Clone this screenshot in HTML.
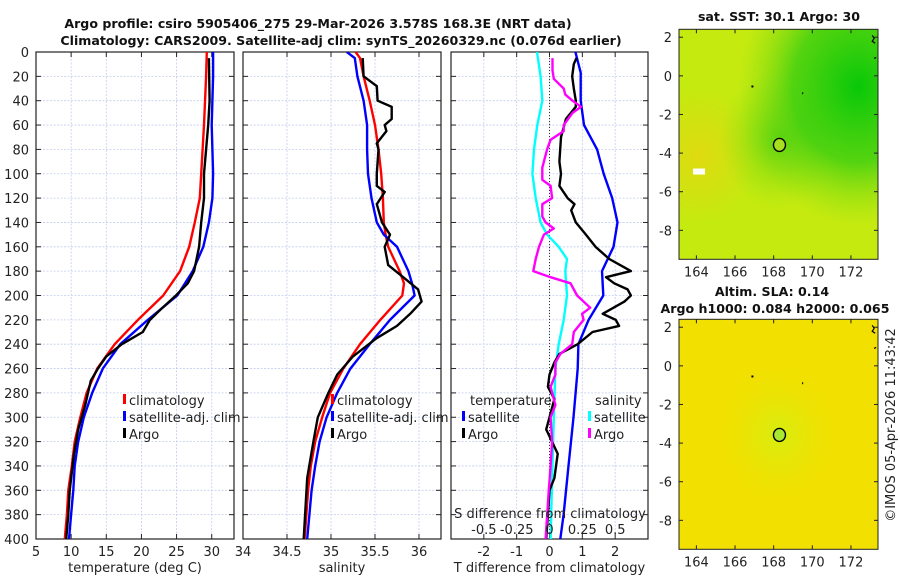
<!DOCTYPE html>
<html><head><meta charset="utf-8"><style>
html,body{margin:0;padding:0;background:#fff}
svg{display:block;font-family:"DejaVu Sans","Liberation Sans",sans-serif}
</style></head><body>
<svg id="fig" width="900" height="580" viewBox="0 0 900 580">
<defs>
<radialGradient id="sstG1" cx="0.9" cy="0.25" r="0.6"><stop offset="0" stop-color="#08c808"/><stop offset="0.55" stop-color="#30cc10" stop-opacity="0.75"/><stop offset="1" stop-color="#80dc10" stop-opacity="0"/></radialGradient>
<radialGradient id="sstG2" cx="0.5" cy="0.48" r="0.3"><stop offset="0" stop-color="#30c810" stop-opacity="0.7"/><stop offset="1" stop-color="#80dc10" stop-opacity="0"/></radialGradient>
<radialGradient id="sstG3" cx="0.1" cy="0.55" r="0.3"><stop offset="0" stop-color="#f0d010" stop-opacity="0.6"/><stop offset="1" stop-color="#f0d010" stop-opacity="0"/></radialGradient>
<radialGradient id="slaG" cx="0.5" cy="0.5" r="0.35"><stop offset="0" stop-color="#d6ee10"/><stop offset="1" stop-color="#f2e000" stop-opacity="0"/></radialGradient>
<clipPath id="c1"><rect x="36" y="52" width="198" height="487"/></clipPath>
<clipPath id="c2"><rect x="243" y="52" width="198" height="487"/></clipPath>
<clipPath id="c3"><rect x="451" y="52" width="197" height="487"/></clipPath>
</defs>
<g id="root"></g>
</svg>
<script>
// ---- data ----
const depthT = [0,20,60,100,120,140,160,180,200,220,240,260,280,300,320,340,360,380,400];
const tempClim = [29.3,29.2,28.9,28.5,28.3,27.6,26.8,25.5,23.1,19.5,16.2,13.7,12.2,11.3,10.5,10.1,9.6,9.4,9.1];
const tempSat = [30.2,30.2,30.0,30.2,30.1,29.6,28.8,27.3,25.1,20.9,17.0,14.5,13.0,11.8,11.0,10.5,10.3,10.0,9.7];
const depthArgoT = [5,40,60,80,100,120,140,160,180,190,200,210,220,230,240,250,260,270,290,310,330,360,380,400];
const tempArgo = [29.6,29.7,29.5,29.2,28.9,28.9,28.5,28.2,27.5,26.6,24.9,23.0,21.2,20.2,17.2,15.0,13.8,12.8,12.0,11.0,10.4,9.8,9.6,9.3];

const depthS = [0,5,20,40,60,80,100,120,140,150,160,180,190,200,220,240,260,280,300,320,340,360,400];
const salClim = [35.28,35.33,35.37,35.44,35.50,35.54,35.57,35.59,35.60,35.62,35.65,35.78,35.83,35.81,35.56,35.33,35.14,34.99,34.90,34.82,34.77,34.74,34.70];
const salSat = [35.18,35.27,35.30,35.37,35.41,35.41,35.42,35.46,35.52,35.60,35.75,35.88,35.92,35.95,35.67,35.44,35.22,35.07,34.95,34.87,34.82,34.78,34.73];
const depthArgoS = [5,20,28,40,45,55,60,65,75,80,100,110,115,125,140,150,160,175,185,195,205,215,225,235,250,265,280,300,320,350,400];
const salArgo = [35.36,35.37,35.52,35.53,35.69,35.69,35.61,35.63,35.52,35.54,35.52,35.52,35.61,35.52,35.58,35.67,35.61,35.65,35.82,35.99,36.03,35.90,35.75,35.52,35.25,35.07,34.97,34.85,34.80,34.73,34.69];

const depthD1 = [0,17,40,60,80,100,120,140,160,180,200,220,240,260,300,340,380,400];
const tDiffSat = [0.79,0.95,0.95,1.05,1.45,1.65,1.91,2.07,1.95,1.60,1.64,1.19,0.88,0.86,0.73,0.58,0.43,0.33];
const depthD2 = [0,20,40,60,80,100,120,140,150,160,170,180,200,220,240,260,300,350,400];
const sDiffSat = [-0.095,-0.068,-0.055,-0.093,-0.118,-0.13,-0.105,-0.068,-0.018,0.07,0.133,0.12,0.133,0.108,0.07,0.045,0.033,0.02,0.008];
const depthD3 = [5,10,20,30,40,45,55,70,90,100,110,120,125,130,140,150,160,170,180,185,190,195,200,205,215,220,225,230,240,248,255,265,275,285,300,310,330,350,360,380,400];
const tDiffArgo = [0.82,0.74,0.69,0.74,0.80,0.80,0.50,0.35,0.30,0.35,0.30,0.55,0.76,0.66,0.80,1.11,1.40,1.82,2.48,1.72,1.97,2.38,2.48,2.28,1.62,2.02,2.12,1.31,0.86,0.30,0.15,0.0,-0.05,0.15,0.0,-0.10,0.25,0.15,0.0,-0.05,-0.10];
const depthD4 = [5,15,22,30,35,40,45,50,60,65,72,80,95,105,110,120,125,135,140,145,150,160,170,180,185,190,200,210,215,220,230,240,248,255,265,275,290,300,320,340,360,400];
const sDiffArgo = [0.023,0.023,0.033,0.108,0.12,0.175,0.24,0.175,0.108,0.108,0.008,-0.018,-0.055,-0.055,0.008,0.02,-0.055,-0.055,-0.03,0.033,-0.043,-0.08,-0.105,-0.123,0.008,0.16,0.21,0.31,0.248,0.26,0.185,0.173,0.083,0.045,0.045,0.008,0.045,0.008,0.02,0.008,-0.005,-0.03];

const tTicks = [5,10,15,20,25,30];
const sTicks = [34,34.5,35,35.5,36];
const dTicks = [-2,-1,0,1,2];
const sdTicks = [-0.5,-0.25,0,0.25,0.5];
const sdLabels = ["-0.5","-0.25","0","0.25","0.5"];
const depthTicks = [0,20,40,60,80,100,120,140,160,180,200,220,240,260,280,300,320,340,360,380,400];
const lonTicks = [164,166,168,170,172];
const latTicks = [2,0,-2,-4,-6,-8];
const argoPos = [168.3,-3.578];

// ---- helpers ----
const NS="http://www.w3.org/2000/svg";
const root=document.getElementById('root');
function mk(tag,attrs,parent){const e=document.createElementNS(NS,tag);for(const k in attrs)e.setAttribute(k,attrs[k]);(parent||root).appendChild(e);return e;}
function txt(x,y,s,opt,parent){const e=mk('text',Object.assign({x:x,y:y,'font-size':13,fill:'#222'},opt||{}),parent);e.textContent=s;return e;}
const Y0=52,Y1=539;
const yD=d=>Y0+(d/400)*(Y1-Y0);
function lin(d0,d1,p0,p1){return v=>p0+(v-d0)/(d1-d0)*(p1-p0);}
const xT=lin(5,33.17,36,234), xS=lin(34,36.25,243,441), xD=lin(-3,3,451,648), xSD=v=>xD(v*4);

function panel(x0,x1,xs,ticks,labels,name,title){
  const g=mk('g',{});
  
  
  mk('rect',{x:x0,y:Y0,width:x1-x0,height:Y1-Y0,fill:'#fff'},g);
  depthTicks.forEach(d=>{ if(d>0&&d<400) mk('line',{x1:x0,x2:x1,y1:yD(d),y2:yD(d),stroke:'#c4cdee','stroke-width':0.8,'stroke-dasharray':'2,1.5'},g);
    mk('line',{x1:x0,x2:x0+5,y1:yD(d),y2:yD(d),stroke:'#222'},g); mk('line',{x1:x1-5,x2:x1,y1:yD(d),y2:yD(d),stroke:'#222'},g);});
  ticks.forEach((t,i)=>{const x=xs(t); if(x>x0+1) mk('line',{x1:x,x2:x,y1:Y0,y2:Y1,stroke:'#c4cdee','stroke-width':0.8,'stroke-dasharray':'2,1.5'},g);
    mk('line',{x1:x,x2:x,y1:Y1,y2:Y1-5,stroke:'#222'},g); mk('line',{x1:x,x2:x,y1:Y0,y2:Y0+5,stroke:'#222'},g);
    const l=txt(x,556,labels[i],{'text-anchor':'middle'},g);
    
    });
  mk('rect',{x:x0,y:Y0,width:x1-x0,height:Y1-Y0,fill:'none',stroke:'#222','stroke-width':1.2},g);
  const t=txt((x0+x1)/2,572,title,{'text-anchor':'middle'},g);
  
  
  return g;
}
function line(xs,ds,vals,xf,color,clip,name,w){
  const pts=ds.map((d,i)=>xf(vals[i]).toFixed(1)+','+yD(d).toFixed(1)).join(' ');
  const p=mk('polyline',{points:pts,fill:'none',stroke:color,'stroke-width':w||2.4,'stroke-linejoin':'round','clip-path':'url(#'+clip+')'});
  
  
  return p;
}
function legendItem(x,y,color,label,name){
  const g=mk('g',{});
  
  
  mk('rect',{x:x,y:y-11,width:3,height:10,fill:color},g);
  txt(x+6,y,label,{'font-size':13},g);
}

// titles
const t1=txt(318,28,'Argo profile: csiro 5905406_275 29-Mar-2026 3.578S 168.3E (NRT data)',{'text-anchor':'middle','font-weight':'bold','font-size':12.6,fill:'#111'});


const t2=txt(341,45,'Climatology: CARS2009. Satellite-adj clim: synTS_20260329.nc (0.076d earlier)',{'text-anchor':'middle','font-weight':'bold','font-size':12.6,fill:'#111'});



// y labels
depthTicks.forEach(d=>{const l=txt(29,yD(d)+5,String(d),{'text-anchor':'end'});
  
  });

// panel 1
panel(36,234,xT,tTicks,tTicks.map(String),'temperature-panel','temperature (deg C)');
line(0,depthT,tempClim,xT,'#ff0000','c1','temp-climatology-line');
line(0,depthT,tempSat,xT,'#0000ff','c1','temp-satellite-line');
line(0,depthArgoT,tempArgo,xT,'#000','c1','temp-argo-line');
legendItem(123,405,'#ff0000','climatology','legend-climatology');
legendItem(123,422,'#0000ff','satellite-adj. clim','legend-satellite-adj');
legendItem(123,439,'#000','Argo','legend-argo');

// panel 2
panel(243,441,xS,sTicks,sTicks.map(String),'salinity-panel','salinity');
line(0,depthS,salClim,xS,'#ff0000','c2','sal-climatology-line');
line(0,depthS,salSat,xS,'#0000ff','c2','sal-satellite-line');
line(0,depthArgoS,salArgo,xS,'#000','c2','sal-argo-line');
legendItem(331,405,'#ff0000','climatology','legend-climatology-2');
legendItem(331,422,'#0000ff','satellite-adj. clim','legend-satellite-adj-2');
legendItem(331,439,'#000','Argo','legend-argo-2');

// panel 3
panel(451,648,xD,dTicks,dTicks.map(String),'difference-panel','T difference from climatology');
mk('line',{x1:xD(0),x2:xD(0),y1:Y0,y2:Y1,stroke:'#333','stroke-width':1,'stroke-dasharray':'1,2'});
line(0,depthD1,tDiffSat,xD,'#0000ff','c3','tdiff-satellite-line');
line(0,depthD2,sDiffSat,xSD,'#00ffff','c3','sdiff-satellite-line');
line(0,depthD3,tDiffArgo,xD,'#000','c3','tdiff-argo-line');
line(0,depthD4,sDiffArgo,xSD,'#ff00ff','c3','sdiff-argo-line');
const lt=txt(470,405,'temperature',{'font-size':13});


legendItem(462,422,'#0000ff','satellite','legend-t-satellite');
legendItem(462,439,'#000','Argo','legend-t-argo');
const ls=txt(595,405,'salinity',{'font-size':13});


legendItem(588,422,'#00ffff','satellite','legend-s-satellite');
legendItem(588,439,'#ff00ff','Argo','legend-s-argo');
const sdt=txt(550,518,'S difference from climatology',{'text-anchor':'middle','font-size':13});


sdTicks.forEach((v,i)=>{const l=txt(xSD(v),534,sdLabels[i],{'text-anchor':'middle','font-size':13});
  
  });

// maps
const LON0=163.1,LON1=173.4, MX0=679,MX1=878;
const xL=lin(LON0,LON1,MX0,MX1);
function map(top,bot,latTop,latBot,name,kind){
  const yL=lin(latTop,latBot,top,bot);
  const g=mk('g',{});
  
  
  if(kind==='sst'){
    mk('rect',{x:MX0,y:top,width:MX1-MX0,height:bot-top,fill:'#c4ea10'},g);
    mk('rect',{x:MX0,y:top,width:MX1-MX0,height:bot-top,fill:'url(#sstG3)'},g);
    mk('rect',{x:MX0,y:top,width:MX1-MX0,height:bot-top,fill:'url(#sstG2)'},g);
    mk('rect',{x:MX0,y:top,width:MX1-MX0,height:bot-top,fill:'url(#sstG1)'},g);
    mk('rect',{x:MX0+14,y:yL(-4.8),width:12,height:6,fill:'#fff'},g);
  } else {
    mk('rect',{x:MX0,y:top,width:MX1-MX0,height:bot-top,fill:'#f2e000'},g);
    mk('rect',{x:MX0,y:top,width:MX1-MX0,height:bot-top,fill:'url(#slaG)'},g);
  }
  mk('rect',{x:MX0,y:top,width:MX1-MX0,height:bot-top,fill:'none',stroke:'#222','stroke-width':1},g);
  lonTicks.forEach(v=>{const x=xL(v);
    mk('line',{x1:x,x2:x,y1:bot,y2:bot-4,stroke:'#222'},g);mk('line',{x1:x,x2:x,y1:top,y2:top+4,stroke:'#222'},g);
    const l=txt(x,bot+17,String(v),{'text-anchor':'middle'},g);
    
    });
  latTicks.forEach(v=>{const y=yL(v);
    mk('line',{x1:MX0,x2:MX0+4,y1:y,y2:y,stroke:'#222'},g);mk('line',{x1:MX1-4,x2:MX1,y1:y,y2:y,stroke:'#222'},g);
    const l=txt(672,y+5,String(v),{'text-anchor':'end'},g);
    
    });
  const c=mk('ellipse',{cx:xL(argoPos[0]),cy:yL(argoPos[1]),rx:6,ry:6.5,fill:kind==='sst'?'#a8e020':'#a8e830',stroke:'#000','stroke-width':1.4},g);
  
  
  mk('path',{d:`M${xL(173.1)},${yL(2.1)} l2,3 l-2,3 l3,2 M${xL(173.2)},${yL(0.9)} l2,-1`,stroke:'#000','stroke-width':1.2,fill:'none'},g);
  mk('rect',{x:xL(166.9)-1,y:yL(-0.55)-1,width:2,height:2,fill:'#000'},g);
  mk('rect',{x:xL(169.5)-0.5,y:yL(-0.9)-1,width:1,height:2,fill:'#000'},g);
  return yL;
}
map(29.3,259.3,2.41,-9.5,'sst-map','sst');
const mt1=txt(779,21,'sat. SST: 30.1 Argo: 30',{'text-anchor':'middle','font-weight':'bold','font-size':12.6,fill:'#111'});


map(319.3,549.3,2.41,-9.5,'sla-map','sla');
const mt2=txt(772,296,'Altim. SLA: 0.14',{'text-anchor':'middle','font-weight':'bold','font-size':12.6,fill:'#111'});


const mt3=txt(775,313,'Argo h1000: 0.084 h2000: 0.065',{'text-anchor':'middle','font-weight':'bold','font-size':12.6,fill:'#111'});


const cr=txt(0,0,'\u00a9IMOS 05-Apr-2026 11:43:42',{'text-anchor':'middle','font-size':13,transform:'translate(895,425) rotate(-90)'});


</script>
</body></html>
